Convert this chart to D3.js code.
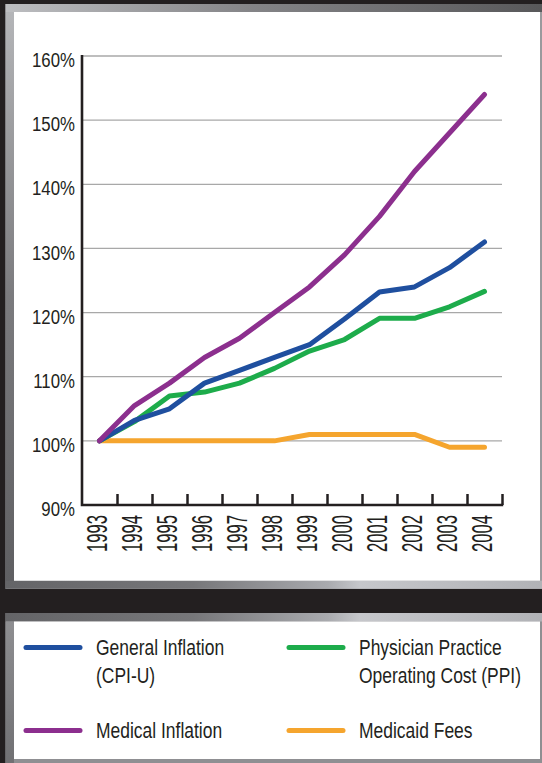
<!DOCTYPE html>
<html>
<head>
<meta charset="utf-8">
<script src="https://cdn.jsdelivr.net/npm/d3@7"></script>
<style>
  html, body { margin: 0; padding: 0; background: #231f20; }
  svg { display: block; }
  text { font-family: 'Liberation Sans', Arial, sans-serif; fill: #231f20; }
</style>
</head>
<body>
<div id="chart"></div>
<script>
'use strict';

// data
var years = ['1993','1994','1995','1996','1997','1998','1999','2000','2001','2002','2003','2004'];
var generalInflation = [100, 103.2, 105, 109, 111, 113, 115, 119, 123.2, 124, 127, 131];
var physicianPractice = [100, 103, 107, 107.6, 109, 111.3, 114, 115.8, 119.1, 119.1, 120.9, 123.3];
var medicalInflation = [100, 105.5, 109, 113, 116, 120, 124, 129, 135, 142, 148, 154];
var medicaidFees = [100, 100, 100, 100, 100, 100, 101, 101, 101, 101, 99, 99];
var yTicks = [90, 100, 110, 120, 130, 140, 150, 160];

var seriesLegend = [['General Inflation', '(CPI-U)'], ['Physician Practice', 'Operating Cost (PPI)'], ['Medical Inflation'], ['Medicaid Fees']];
var seriesColors = ['#1f4f9f', '#1dac4b', '#8c2f8e', '#f5a52e'];

var chart = {};
chart.width = 542;
chart.height = 763;
chart.left = 82;
chart.right = 502;
chart.top = 56;
chart.bottom = 505;
chart.narrow = 0.82; // Arial Narrow is about Arial squeezed to 82%

chart.appendSvg = function (div)
{
    return d3.select(div).append('svg')
        .attr('width', chart.width)
        .attr('height', chart.height);
}

// squeeze a text sideways around its anchor point
chart.condense = function (sel, f)
{
    sel.each(function () {
        var t = d3.select(this);
        var x = +t.attr('x') || 0;
        var y = +t.attr('y') || 0;
        t.attr('x', 0).attr('y', 0)
            .attr('transform', 'translate(' + x + ',' + y + ') scale(' + f + ',1)');
    });
}

chart.addGradient = function (defs, id, x2, y2, stops)
{
    var g = defs.append('linearGradient')
        .attr('id', id)
        .attr('x1', 0).attr('y1', 0)
        .attr('x2', x2).attr('y2', y2);
    stops.forEach(function (s) {
        g.append('stop').attr('offset', s[0]).attr('stop-color', s[1]);
    });
}

chart.drawFrames = function (svg)
{
    var defs = svg.append('defs');
    chart.addGradient(defs, 'gTop', 1, 0, [[0, '#bdbec1'], [0.45, '#858588'], [1, '#58585a']]);
    chart.addGradient(defs, 'gLeft', 0, 1, [[0, '#b4b5b8'], [0.5, '#7b7b7e'], [1, '#5f5f62']]);
    chart.addGradient(defs, 'gBottom', 1, 0, [[0, '#646467'], [0.35, '#77777a'], [0.6, '#a9aaae'], [0.66, '#c6c7cb'], [1, '#b1b2b6']]);
    chart.addGradient(defs, 'gLeft2', 0, 1, [[0, '#8e8e91'], [1, '#707073']]);

    // top panel
    svg.append('rect').attr('x', 5.5).attr('y', 4).attr('width', 537).attr('height', 585).attr('fill', '#9a9a9d');
    svg.append('rect').attr('x', 5.5).attr('y', 4).attr('width', 537).attr('height', 8).attr('fill', 'url(#gTop)');
    svg.append('rect').attr('x', 5.5).attr('y', 12).attr('width', 8.5).attr('height', 569).attr('fill', 'url(#gLeft)');
    svg.append('rect').attr('x', 5.5).attr('y', 580.7).attr('width', 537).attr('height', 8).attr('fill', 'url(#gBottom)');
    svg.append('rect').attr('x', 14).attr('y', 12).attr('width', 526).attr('height', 568.7).attr('fill', '#fff');

    // bottom panel
    svg.append('rect').attr('x', 5.5).attr('y', 613).attr('width', 537).attr('height', 150).attr('fill', '#8f8f92');
    svg.append('rect').attr('x', 5.5).attr('y', 613).attr('width', 537).attr('height', 8.5).attr('fill', 'url(#gBottom)');
    svg.append('rect').attr('x', 5.5).attr('y', 621.5).attr('width', 8.5).attr('height', 142).attr('fill', 'url(#gLeft2)');
    svg.append('rect').attr('x', 14).attr('y', 621.5).attr('width', 526).attr('height', 137.5).attr('fill', '#fff');
}

chart.createScales = function ()
{
    chart.xScale = d3.scaleBand().domain(years).range([chart.left, chart.right]).padding(0);
    chart.edgeScale = d3.scaleLinear().domain([0, years.length]).range([chart.left, chart.right]);
    chart.yScale = d3.scaleLinear().domain([90, 160]).range([chart.bottom, chart.top]);
}

chart.drawAxes = function (svg)
{
    // gridlines
    svg.append('g').selectAll('line')
        .data(yTicks.slice(1))
        .enter()
        .append('line')
        .attr('x1', chart.left)
        .attr('x2', chart.right)
        .attr('y1', function (d) { return chart.yScale(d); })
        .attr('y2', function (d) { return chart.yScale(d); })
        .attr('stroke', '#a8a8a8')
        .attr('stroke-width', 1.3);

    // y labels
    var yAxis = d3.axisLeft(chart.yScale)
        .tickValues(yTicks)
        .tickSize(0)
        .tickPadding(7)
        .tickFormat(function (d) { return d + '%'; });
    var yg = svg.append('g')
        .attr('transform', 'translate(' + chart.left + ',0)')
        .call(yAxis);
    yg.select('.domain').remove();
    yg.selectAll('text')
        .attr('font-family', null)
        .attr('font-size', 20.5)
        .attr('dy', '0.52em')
        .attr('fill', '#231f20');
    chart.condense(yg.selectAll('text'), chart.narrow);

    // x labels
    var xAxis = d3.axisBottom(chart.xScale).tickSize(0);
    var xg = svg.append('g')
        .attr('transform', 'translate(0,' + chart.bottom + ')')
        .call(xAxis);
    xg.select('.domain').remove();
    xg.selectAll('text')
        .attr('font-family', null)
        .attr('font-size', 30)
        .attr('text-anchor', 'end')
        .attr('y', 0)
        .attr('dy', 0)
        .attr('textLength', 37)
        .attr('lengthAdjust', 'spacingAndGlyphs')
        .attr('transform', 'translate(7.5,10) rotate(-90)')
        .attr('fill', '#231f20');

    // x tick marks at band edges
    var tAxis = d3.axisTop(chart.edgeScale)
        .tickValues(d3.range(1, years.length + 1))
        .tickSize(11)
        .tickSizeOuter(0)
        .tickFormat('');
    var tg = svg.append('g')
        .attr('transform', 'translate(0,' + chart.bottom + ')')
        .call(tAxis);
    tg.select('.domain').remove();
    tg.selectAll('line').attr('stroke', '#231f20').attr('stroke-width', 2.5);

    // axis lines
    svg.append('path')
        .attr('d', 'M' + chart.left + ',' + (chart.top - 1) + 'V' + chart.bottom + 'H' + (chart.right + 1.2))
        .attr('fill', 'none')
        .attr('stroke', '#231f20')
        .attr('stroke-width', 2.6);
}

chart.drawLines = function (svg)
{
    var all = [generalInflation, physicianPractice, medicalInflation, medicaidFees];
    var order = [3, 1, 0, 2];
    var line = d3.line()
        .x(function (d, i) { return chart.xScale(years[i]) + chart.xScale.bandwidth() / 2; })
        .y(function (d) { return chart.yScale(d); });
    order.forEach(function (k) {
        svg.append('path')
            .attr('d', line(all[k]))
            .attr('fill', 'none')
            .attr('stroke', seriesColors[k])
            .attr('stroke-width', 5)
            .attr('stroke-linecap', 'round')
            .attr('stroke-linejoin', 'round');
    });
}

chart.drawLegend = function (svg)
{
    var items = [
        {x: 26, y: 647.5},
        {x: 289, y: 647.5},
        {x: 26, y: 730.4},
        {x: 289, y: 730.4}
    ];
    var g = svg.append('g').attr('class', 'legend');
    items.forEach(function (it, i) {
        g.append('line')
            .attr('x1', it.x).attr('x2', it.x + 54)
            .attr('y1', it.y).attr('y2', it.y)
            .attr('stroke', seriesColors[i])
            .attr('stroke-width', 5)
            .attr('stroke-linecap', 'round');
        seriesLegend[i].forEach(function (s, j) {
            g.append('text')
                .attr('x', it.x + 70)
                .attr('y', it.y + 7.2 + j * 28)
                .attr('font-size', 21.3)
                .text(s);
        });
    });
    chart.condense(g.selectAll('text'), chart.narrow);
}

var svg = chart.appendSvg('#chart');
chart.drawFrames(svg);
chart.createScales();
chart.drawAxes(svg);
chart.drawLines(svg);
chart.drawLegend(svg);
</script>
</body>
</html>
